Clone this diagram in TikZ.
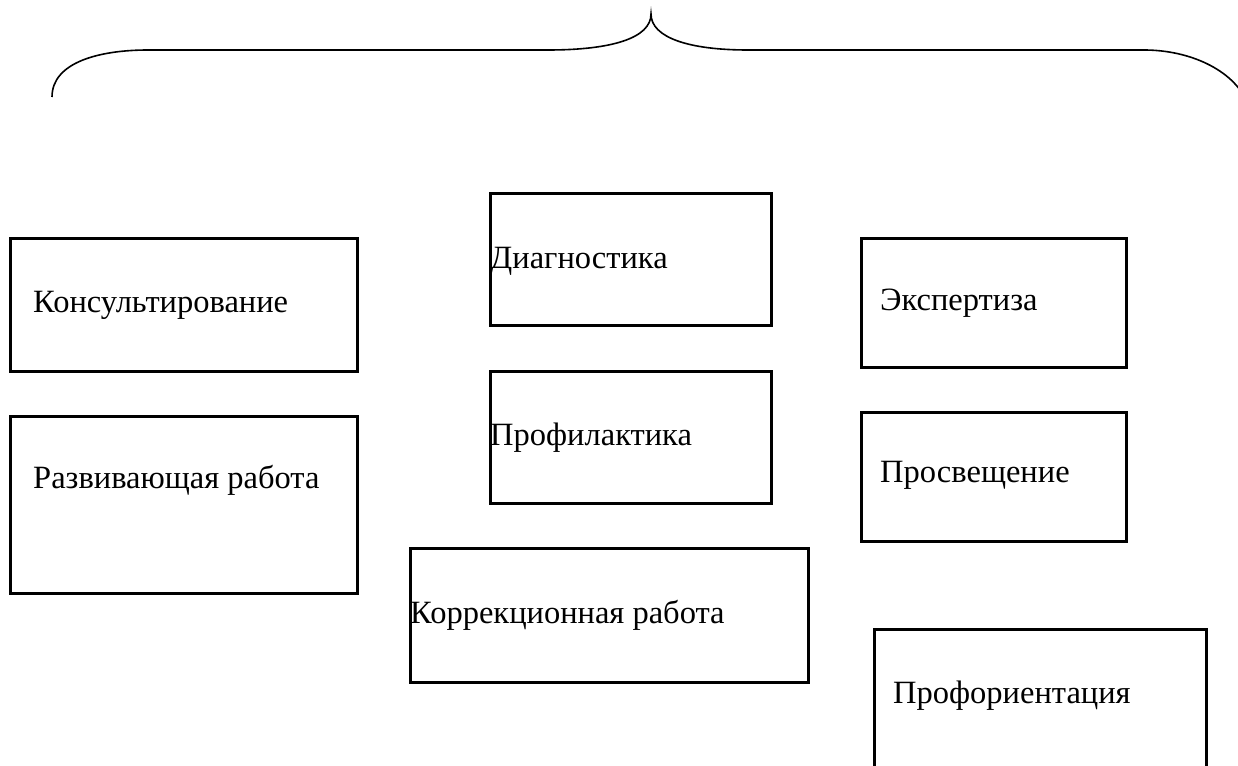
\documentclass[tikz,border=0pt]{standalone}
\usepackage{fontspec}
\setmainfont{Liberation Serif}
\newfontfamily\lblfont{Liberation Serif}
\begin{document}
\begin{tikzpicture}[x=1pt,y=-1pt,
  box/.style={draw=black, line width=3pt, rectangle, inner sep=0pt, fill=none},
  lbl/.style={anchor=base west, inner sep=0pt, font=\lblfont\fontsize{32.5}{38}\selectfont},
  bracepath/.style={draw=black, line width=1.6pt}]
\useasboundingbox (0,0) rectangle (1238,765);
\clip (0,0) rectangle (1238,765);
\fill[white] (0,0) rectangle (1238,765);
% brace
\coordinate (bl) at (52,97);
\coordinate (bt) at (651,14);
\coordinate (br) at (1246,100);
\draw[bracepath] (bl) .. controls (52,62) and (100,50) .. (148,50) -- (548,50)
  .. controls (612,50) and (651,38) .. (bt)
  .. controls (651,38) and (690,50) .. (748,50) -- (1144,50)
  .. controls (1190,50) and (1232,70) .. (br);
% boxes
\node[box, minimum width=347pt, minimum height=133pt] (konsult) at (183.5,304.5) {};
\node[lbl] (tkonsult) at (33,312) {Консультирование};
\node[box, minimum width=347pt, minimum height=177pt] (razv) at (183.5,504.5) {};
\node[lbl] (trazv) at (33,488) {Развивающая работа};
\node[box, minimum width=281pt, minimum height=132pt] (diag) at (630.5,259) {};
\node[lbl] (tdiag) at (490,268) {Диагностика};
\node[box, minimum width=281pt, minimum height=132pt] (prof) at (630.5,437) {};
\node[lbl] (tprof) at (490,445) {Профилактика};
\node[box, minimum width=398pt, minimum height=134pt] (korr) at (609,615) {};
\node[lbl] (tkorr) at (410,623) {Коррекционная работа};
\node[box, minimum width=265pt, minimum height=129pt] (eksp) at (993.5,302.5) {};
\node[lbl] (teksp) at (880,310) {Экспертиза};
\node[box, minimum width=265pt, minimum height=129pt] (prosv) at (993.5,476.5) {};
\node[lbl] (tprosv) at (880,482) {Просвещение};
\node[box, minimum width=332pt, minimum height=162pt] (proforient) at (1040,710) {};
\node[lbl] (tproforient) at (893,703) {Профориентация};
\end{tikzpicture}
\end{document}
